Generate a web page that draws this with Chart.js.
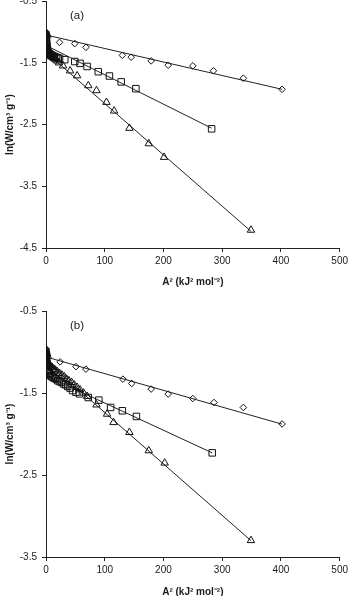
<!DOCTYPE html>
<html>
<head>
<meta charset="utf-8">
<script src="https://cdn.jsdelivr.net/npm/chart.js@4.4.1/dist/chart.umd.min.js"></script>
<style>
  html, body { margin: 0; padding: 0; background: #fff; overflow: hidden; }
  .panel { position: absolute; left: 0; width: 351px; height: 300px; }
  #wrapA { top: -10px; }
  #wrapB { top: 300px; }
</style>
</head>
<body>
<div class="panel" id="wrapA"><canvas id="chartA" width="351" height="300"></canvas></div>
<div class="panel" id="wrapB"><canvas id="chartB" width="351" height="300"></canvas></div>
<script>
// ---------------- panel (a) ----------------
const aDiamondX = [0, 0.1, 0.3, 0.5, 0.8, 1.2, 1.5, 2, 3, 23, 49, 68, 130, 145, 179, 208, 250, 285, 336, 402];
const aDiamondY = [-1.0, -1.01, -1.02, -1.03, -1.04, -1.05, -1.06, -1.07, -1.09, -1.17, -1.19, -1.25, -1.38, -1.41, -1.47, -1.54, -1.55, -1.63, -1.75, -1.93];
const aSquareX = [0.2, 0.4, 0.6, 0.8, 1, 1.3, 1.6, 2, 2.5, 3, 4, 5, 6.5, 8, 10, 12, 14, 17, 20, 23, 32, 49, 58, 70, 89, 108, 128, 153, 282];
const aSquareY = [-1.08, -1.11, -1.14, -1.17, -1.2, -1.23, -1.26, -1.28, -1.3, -1.32, -1.34, -1.35, -1.36, -1.37, -1.38, -1.39, -1.4, -1.41, -1.42, -1.43, -1.45, -1.48, -1.51, -1.56, -1.645, -1.715, -1.81, -1.92, -2.57];
const aTriangleX = [0.3, 0.6, 1, 1.5, 2, 2.5, 3.2, 4, 5.5, 7, 9, 11, 13.5, 16, 19, 22, 29, 41, 53, 72, 86, 103, 116, 142, 175, 201, 349];
const aTriangleY = [-1.1, -1.15, -1.2, -1.24, -1.27, -1.3, -1.32, -1.34, -1.36, -1.38, -1.4, -1.41, -1.43, -1.45, -1.47, -1.5, -1.55, -1.63, -1.71, -1.87, -1.95, -2.14, -2.28, -2.56, -2.81, -3.03, -4.21];
// fitted lines: [start, end]
const aDiamondFitX = [0, 402];
const aDiamondFitY = [-1.05, -1.93];
const aSquareFitX = [0, 282];
const aSquareFitY = [-1.22, -2.56];
const aTriangleFitX = [0, 349];
const aTriangleFitY = [-1.33, -4.23];
const aYTicks = [-4.5, -0.5];

// ---------------- panel (b) ----------------
const bDiamondX = [0, 0.1, 0.3, 0.5, 0.7, 1, 1.2, 1.6, 2, 2.7, 3.5, 24, 51, 68, 131, 146, 179, 208, 250, 286, 336, 402];
const bDiamondY = [-0.96, -0.97, -0.98, -0.99, -1.0, -1.01, -1.02, -1.03, -1.04, -1.05, -1.07, -1.12, -1.178, -1.209, -1.331, -1.384, -1.452, -1.513, -1.567, -1.616, -1.676, -1.878];
const bSquareX = [0.2, 0.4, 0.6, 0.8, 1, 1.3, 1.6, 2, 2.5, 3, 4, 5, 6.5, 8, 10, 12, 14.5, 17, 20, 23, 26.5, 30, 33.5, 37, 41, 45, 51, 57, 72, 90, 110, 130, 154, 283];
const bSquareY = [-1.05, -1.07, -1.09, -1.11, -1.13, -1.15, -1.17, -1.19, -1.21, -1.22, -1.24, -1.26, -1.27, -1.29, -1.3, -1.31, -1.32, -1.33, -1.35, -1.36, -1.37, -1.39, -1.4, -1.42, -1.44, -1.47, -1.49, -1.51, -1.555, -1.587, -1.676, -1.717, -1.786, -2.23];
const bTriangleX = [0.3, 0.6, 1, 1.5, 2, 3, 4, 5.5, 7, 9, 11, 13.5, 16, 19.5, 23, 27, 31, 35, 39, 43.5, 48, 53, 58, 64, 70, 86, 104, 115, 142, 175, 202, 349];
const bTriangleY = [-1.02, -1.05, -1.08, -1.1, -1.12, -1.13, -1.15, -1.16, -1.17, -1.18, -1.19, -1.21, -1.22, -1.24, -1.26, -1.28, -1.3, -1.33, -1.35, -1.37, -1.4, -1.43, -1.46, -1.5, -1.54, -1.644, -1.757, -1.859, -1.98, -2.203, -2.353, -3.298];
const bDiamondFitX = [0, 402];
const bDiamondFitY = [-1.06, -1.88];
const bSquareFitX = [0, 283];
const bSquareFitY = [-1.29, -2.23];
const bTriangleFitX = [0, 349];
const bTriangleFitY = [-1.11, -3.30];
const bYTicks = [-3.5, -0.5];

const xTicks = [0, 500, 100];

const FONT = "'Liberation Sans', Arial, sans-serif";
const INK = '#1a1a1a';
const AXIS = '#222';

function pts(xs, ys) {
	return xs.map((x, i) => ({x: x, y: ys[i]}));
}

function markers(xs, ys, style, r) {
	return {
		data: pts(xs, ys),
		showLine: false,
		pointStyle: style,
		pointRadius: r,
		pointBackgroundColor: 'rgba(0,0,0,0)',
		pointBorderColor: '#111',
		pointBorderWidth: 1,
		order: 1
	};
}

function fit(xs, ys) {
	return {
		data: pts(xs, ys),
		showLine: true,
		pointRadius: 0,
		borderColor: '#222',
		borderWidth: 1,
		fill: false,
		order: 2
	};
}

const panelLabel = {
	id: 'panelLabel',
	afterDraw(chart, args, opts) {
		const ctx = chart.ctx;
		const area = chart.chartArea;
		ctx.save();
		ctx.font = '11.5px ' + FONT;
		ctx.fillStyle = INK;
		ctx.textAlign = 'center';
		ctx.textBaseline = 'middle';
		ctx.fillText(opts.text, area.left + 31, area.top + 15);
		ctx.restore();
	}
};

function makeChart(id, label, yTicks, padTop, xAxisHeight, sets) {
	const ctx = document.getElementById(id).getContext('2d');
	return new Chart(ctx, {
		type: 'scatter',
		data: {datasets: sets},
		plugins: [panelLabel],
		options: {
			responsive: false,
			animation: false,
			layout: {padding: {top: padTop, right: 10, bottom: 0, left: 0}},
			plugins: {
				legend: {display: false},
				tooltip: {enabled: false},
				panelLabel: {text: label}
			},
			scales: {
				x: {
					type: 'linear',
					min: xTicks[0],
					max: xTicks[1],
					ticks: {
						stepSize: xTicks[2],
						color: INK,
						font: {family: FONT, size: 10},
						padding: 3,
						maxRotation: 0
					},
					grid: {display: true, drawOnChartArea: false, drawTicks: true, tickLength: 4, color: AXIS},
					border: {display: true, color: AXIS, width: 1},
					title: {
						display: true,
						text: 'A² (kJ² mol⁻²)',
						color: INK,
						font: {family: FONT, size: 10, weight: 'bold'},
						padding: {top: 0, bottom: 2}
					},
					afterFit: (scale) => { scale.height = xAxisHeight; }
				},
				y: {
					type: 'linear',
					min: yTicks[0],
					max: yTicks[1],
					ticks: {
						stepSize: 1,
						color: INK,
						font: {family: FONT, size: 10},
						padding: 5,
						callback: (v) => v.toFixed(1)
					},
					grid: {display: true, drawOnChartArea: false, drawTicks: true, tickLength: 4, color: AXIS},
					border: {display: true, color: AXIS, width: 1},
					title: {
						display: true,
						text: 'ln(W/cm³ g⁻¹)',
						color: INK,
						font: {family: FONT, size: 10, weight: 'bold'},
						padding: {top: 4, bottom: 0}
					},
					afterFit: (scale) => { scale.width = 46; }
				}
			}
		}
	});
}

makeChart('chartA', '(a)', aYTicks, 9, 42, [
	fit(aDiamondFitX, aDiamondFitY),
	fit(aSquareFitX, aSquareFitY),
	fit(aTriangleFitX, aTriangleFitY),
	markers(aDiamondX, aDiamondY, 'rectRot', 3.3),
	markers(aSquareX, aSquareY, 'rect', 4.6),
	markers(aTriangleX, aTriangleY, 'triangle', 4.3)
]);

makeChart('chartB', '(b)', bYTicks, 10, 43, [
	fit(bDiamondFitX, bDiamondFitY),
	fit(bSquareFitX, bSquareFitY),
	fit(bTriangleFitX, bTriangleFitY),
	markers(bDiamondX, bDiamondY, 'rectRot', 3.3),
	markers(bSquareX, bSquareY, 'rect', 4.6),
	markers(bTriangleX, bTriangleY, 'triangle', 4.3)
]);
</script>
</body>
</html>
